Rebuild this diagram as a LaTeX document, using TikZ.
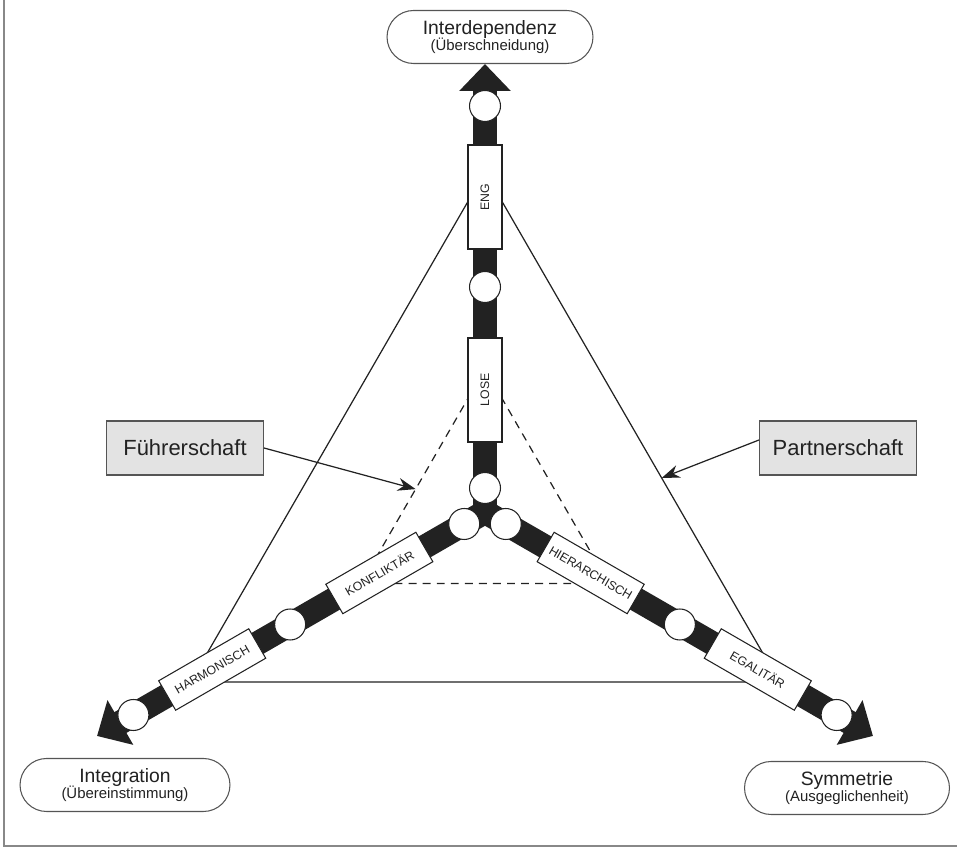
\documentclass[tikz,border=0pt]{standalone}
\usepackage{fontspec}
\setmainfont{Liberation Sans}
\usepackage{xcolor}
\usetikzlibrary{arrows.meta,calc}
\definecolor{ink}{HTML}{222222}
\definecolor{rule}{HTML}{555555}
\definecolor{shade}{HTML}{E3E3E3}
\tikzset{
  every picture/.style={line width=0.6pt, color=ink, text=ink},
  axis/.style={draw=ink, line width=0.48cm, -{Triangle[length=0.54cm, width=1cm]}},
  knob/.style={circle, draw=ink, fill=white, line width=0.6pt, minimum size=0.62cm, inner sep=0pt},
  tag/.style={draw=ink, fill=white, line width=0.6pt, minimum width=2.08cm, minimum height=0.68cm, inner sep=0pt, font=\fontsize{7}{7}\selectfont},
  pole/.style={draw=rule, fill=white, rounded corners=0.53cm, minimum height=1.06cm, align=center, inner sep=2pt, font=\fontsize{11}{11}\selectfont},
  role/.style={draw=rule, fill=shade, minimum width=3.14cm, minimum height=1.08cm, font=\fontsize{12.5}{14}\selectfont},
  side/.style={draw=ink, line width=0.7pt},
  inner/.style={draw=ink, line width=0.7pt, dash pattern=on 4.5pt off 3.5pt},
  flow/.style={draw=ink, line width=0.7pt, -{Stealth[length=3.6mm, width=2.6mm]}},
}

\begin{document}
\begin{tikzpicture}[x=0.02cm, y=0.02cm]
\useasboundingbox (0,0) rectangle (957,848);
\draw[rule!70, line width=1pt] (4,848) -- (4,2) -- (957,2);
\coordinate (mid) at (485,336);
% corners of the two triangles and the axis ends
\foreach \n/\a in {a/90, b/210, c/330} {
  \coordinate (s\n) at ($(mid)+(\a:340)$);
  \coordinate (d\n) at ($(mid)+(\a:143)$);
  \coordinate (tip\n) at ($(mid)+(\a:448)$);
}
\draw[side] (sa) -- (sb) -- (sc) -- cycle;
\draw[inner] (da) -- (db) -- (dc) -- cycle;
\foreach \n in {a,b,c} \draw[axis] (mid) -- (tip\n);
\foreach \n/\a in {a/90, b/210, c/330}
  \foreach \k/\r in {1/24, 2/225, 3/406}
    \node[knob] (k\n\k) at ($(mid)+(\a:\r)$) {};
\node[tag, rotate=90] (lose) at ($(mid)+(90:122)$) {LOSE};
\node[tag, rotate=90] (eng) at ($(mid)+(90:315)$) {ENG};
\node[tag, rotate=30] (konflikt) at ($(mid)+(210:122)$) {KONFLIKTÄR};
\node[tag, rotate=30] (harmon) at ($(mid)+(210:315)$) {HARMONISCH};
\node[tag, rotate=-30] (hierarch) at ($(mid)+(330:122)$) {HIERARCHISCH};
\node[tag, rotate=-30] (egal) at ($(mid)+(330:315)$) {EGALITÄR};
% poles
\node[pole, minimum width=4.12cm] (interdep) at (490,811) {Interdependenz\\[-2pt]{\fontsize{8.5}{9}\selectfont (Überschneidung)}};
\node[pole, minimum width=4.2cm] (integr) at (125,63) {Integration\\[-2pt]{\fontsize{8.5}{9}\selectfont (Übereinstimmung)}};
\node[pole, minimum width=4.1cm] (symm) at (847,60) {Symmetrie\\[-2pt]{\fontsize{8.5}{9}\selectfont (Ausgeglichenheit)}};
% roles
\node[role] (fuehr) at (185,400) {Führerschaft};
\node[role] (partner) at (838,400) {Partnerschaft};
\coordinate (hitl) at ($(da)!0.56!(db)$);
\coordinate (hitr) at ($(sa)!0.6!(sc)$);
\draw[flow] (fuehr.east) -- (hitl);
\draw[flow] ($(partner.west)+(0,8)$) -- (hitr);
\end{tikzpicture}
\end{document}
